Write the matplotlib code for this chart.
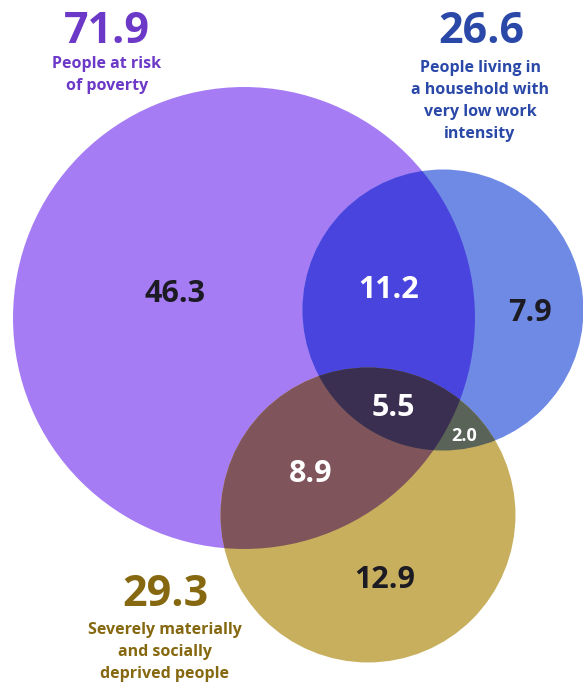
import numpy as np
import matplotlib
matplotlib.use("Agg")
import matplotlib.pyplot as plt
from matplotlib.patches import Circle, Polygon

# set totals (millions of people)
set_names = ["People at risk\nof poverty",
             "People living in\na household with\nvery low work\nintensity",
             "Severely materially\nand socially\ndeprived people"]
set_totals = [71.9, 26.6, 29.3]

# region values: only P, only B, only G, P&B, P&G, B&G, all three
region_labels = ["46.3", "7.9", "12.9", "11.2", "8.9", "2.0", "5.5"]

plt.rcParams["font.family"] = ["Open Sans", "DejaVu Sans"]

W, H = 583, 685
fig = plt.figure(figsize=(W / 100, H / 100), dpi=100)
ax = fig.add_axes([0, 0, 1, 1])
ax.set_xlim(0, W)
ax.set_ylim(H, 0)
ax.set_aspect("equal")
ax.axis("off")

# circle areas scale with the set totals
k = 27.24
radii = [k * np.sqrt(t) for t in set_totals]
centers = [(244, 318), (443, 310), (368, 515)]

c_p, c_b, c_g = "#a67cf5", "#6e8ae5", "#c7af5e"
c_pb, c_pg, c_bg, c_all = "#4a44df", "#80545b", "#5a6358", "#3a2f51"


def circle(i, color, z):
    return Circle(centers[i], radii[i], fc=color, ec="none", lw=0, zorder=z)


def clip_circle(i):
    return Circle(centers[i], radii[i], transform=ax.transData)


def circle_poly(i, n=720):
    t = np.linspace(0, 2 * np.pi, n, endpoint=False)
    cx, cy = centers[i]
    return np.column_stack([cx + radii[i] * np.cos(t), cy + radii[i] * np.sin(t)])


def clip_convex(subject, clipper):
    # Sutherland-Hodgman for two convex polygons with the same winding
    out = list(subject)
    m = len(clipper)
    for j in range(m):
        a, b = clipper[j], clipper[(j + 1) % m]
        inp, out = out, []
        if not inp:
            break

        def inside(p):
            return (b[0] - a[0]) * (p[1] - a[1]) - (b[1] - a[1]) * (p[0] - a[0]) >= 0

        def cross(p, q):
            d1 = p - q
            d2 = a - b
            den = d1[0] * d2[1] - d1[1] * d2[0]
            t = ((p[0] - a[0]) * d2[1] - (p[1] - a[1]) * d2[0]) / den
            return p - t * d1

        s = inp[-1]
        for e in inp:
            if inside(e):
                if not inside(s):
                    out.append(cross(s, e))
                out.append(e)
            elif inside(s):
                out.append(cross(s, e))
            s = e
    return np.array(out)


# single sets
for i, col in enumerate([c_p, c_b, c_g]):
    ax.add_patch(circle(i, col, 1))

# pairwise overlaps
pb = ax.add_patch(circle(1, c_pb, 2))
pb.set_clip_path(clip_circle(0))
pg = ax.add_patch(circle(2, c_pg, 2))
pg.set_clip_path(clip_circle(0))
bg = ax.add_patch(circle(2, c_bg, 2))
bg.set_clip_path(clip_circle(1))

# triple overlap: lens of P and B, clipped to G
lens = clip_convex(circle_poly(1), circle_poly(0))
tri = ax.add_patch(Polygon(lens, closed=True, fc=c_all, ec="none", lw=0, zorder=3))
tri.set_clip_path(clip_circle(2))

# region numbers
pos = [(175, 294), (530, 313), (385, 580), (389, 290), (311, 474), (464, 436), (393, 408)]
cols = ["#1c1a22", "#1c1a22", "#1c1a22", "white", "white", "white", "white"]
sizes = [22, 22, 22, 22, 22, 13, 22]
for lab, (x, y), col, fs in zip(region_labels, pos, cols, sizes):
    ax.text(x, y, lab, color=col, fontsize=fs, fontweight="bold",
            ha="center", va="center", zorder=5)

# set totals and names
head_pos = [(107, 31), (481, 31), (165, 595)]
name_pos = [(107, 56), (480, 60), (165, 622)]
text_cols = ["#6b38c8", "#2a48a8", "#85680f"]
for tot, name, (hx, hy), (nx, ny), col in zip(set_totals, set_names, head_pos, name_pos, text_cols):
    ax.text(hx, hy, f"{tot:.1f}", color=col, fontsize=31, fontweight="bold",
            ha="center", va="center", zorder=5)
    ax.text(nx, ny, name, color=col, fontsize=11.5, fontweight="bold",
            ha="center", va="top", linespacing=1.5, zorder=5)

fig.savefig("out.png", dpi=100)
